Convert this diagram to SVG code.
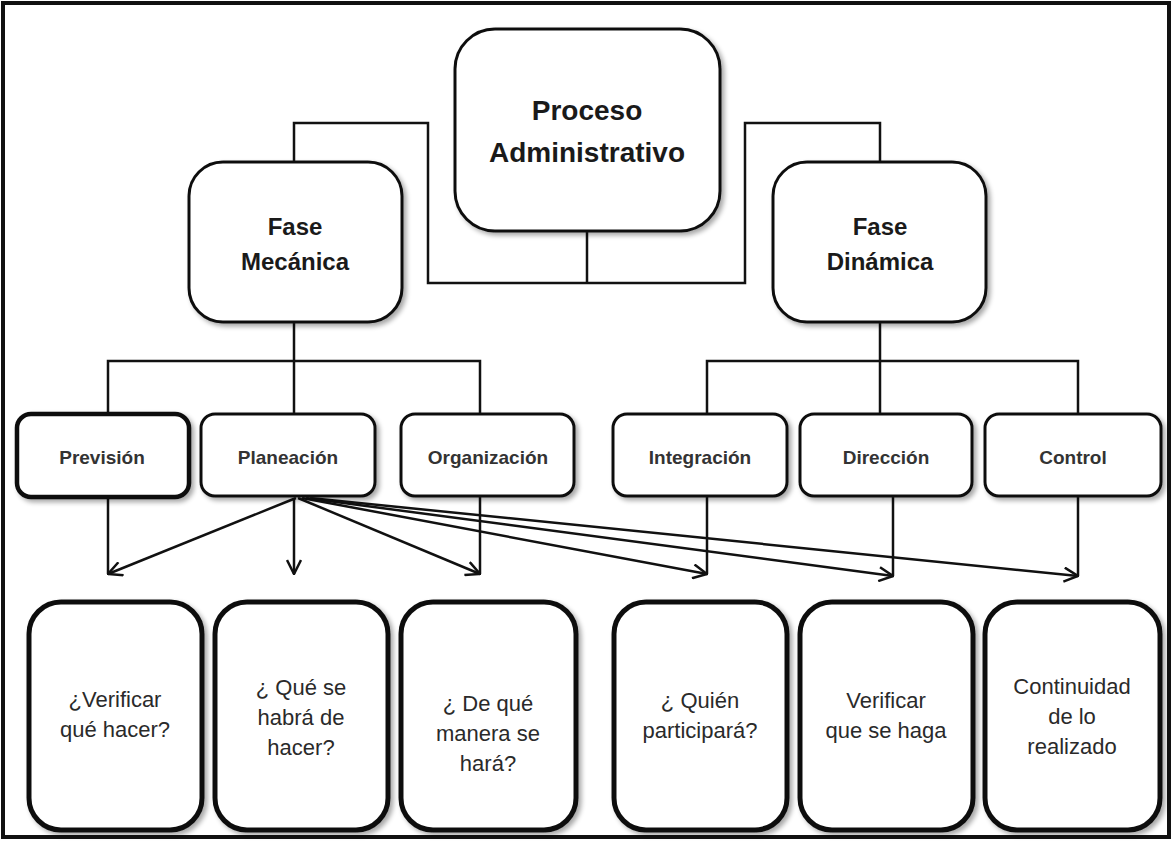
<svg xmlns="http://www.w3.org/2000/svg" width="1173" height="841" viewBox="0 0 1173 841">
  <style>
    .frame { fill: #fff; stroke: #111; stroke-width: 4; }
    .box { fill: #fff; stroke: #111; stroke-width: 3; filter: url(#shadow); }
    .box-heavy { fill: #fff; stroke: #111; stroke-width: 4.5; filter: url(#shadow); }
    .leaf { fill: #fff; stroke: #111; stroke-width: 5; filter: url(#shadow); }
    .wire { fill: none; stroke: #111; stroke-width: 2.5; }
    .title { font-family: "Liberation Sans", Arial, sans-serif; font-weight: bold; font-size: 28px; fill: #1a1a1a; text-anchor: middle; }
    .phase { font-family: "Liberation Sans", Arial, sans-serif; font-weight: bold; font-size: 24px; fill: #1a1a1a; text-anchor: middle; }
    .func { font-family: "Liberation Sans", Arial, sans-serif; font-weight: bold; font-size: 19px; fill: #333; text-anchor: middle; }
    .note { font-family: "Liberation Sans", Arial, sans-serif; font-size: 22px; fill: #2a2a2a; text-anchor: middle; }
  </style>
  <defs>
    <filter id="shadow" x="-10%" y="-10%" width="125%" height="125%">
      <feGaussianBlur in="SourceAlpha" stdDeviation="2.5"/>
      <feOffset dx="3" dy="3" result="b"/>
      <feComponentTransfer><feFuncA type="linear" slope="0.35"/></feComponentTransfer>
      <feMerge><feMergeNode/><feMergeNode in="SourceGraphic"/></feMerge>
    </filter>
    <marker id="arrow" viewBox="0 0 16 16" refX="15" refY="8" markerWidth="16" markerHeight="16" markerUnits="userSpaceOnUse" orient="auto">
      <path d="M1,1 L15,8 L1,15" fill="none" stroke="#111" stroke-width="2.5"/>
    </marker>
  </defs>

  <rect class="frame" x="3" y="3" width="1166" height="834"/>

  <!-- connectors -->
  <g id="connectors">
    <!-- top tree -->
    <path class="wire" d="M294,162 V123 H428 V283 H745 V123 H880 V162"/>
    <path class="wire" d="M587,231 V283"/>
    <!-- mechanical phase branches -->
    <path class="wire" d="M294,322 V415"/>
    <path class="wire" d="M108,415 V361 H480 V415"/>
    <!-- dynamic phase branches -->
    <path class="wire" d="M880,322 V415"/>
    <path class="wire" d="M707,415 V361 H1078 V415"/>
    <!-- drops from function boxes -->
    <path class="wire" d="M108,497 V574"/>
    <path class="wire" d="M480,497 V574"/>
    <path class="wire" d="M707,497 V574"/>
    <path class="wire" d="M893,497 V576"/>
    <path class="wire" d="M1078,497 V576"/>
    <!-- fan of arrows from Planeación -->
    <path class="wire" d="M296,498 L108,574" marker-end="url(#arrow)"/>
    <path class="wire" d="M294,498 V574" marker-end="url(#arrow)"/>
    <path class="wire" d="M298,498 L480,574" marker-end="url(#arrow)"/>
    <path class="wire" d="M302,498 L707,574" marker-end="url(#arrow)"/>
    <path class="wire" d="M306,498 L893,576" marker-end="url(#arrow)"/>
    <path class="wire" d="M310,498 L1078,576" marker-end="url(#arrow)"/>
  </g>

  <g id="proceso">
    <rect class="box" x="455" y="29" width="265" height="202" rx="40"/>
    <text class="title" x="587" y="120">Proceso</text>
    <text class="title" x="587" y="162">Administrativo</text>
  </g>

  <g id="fase-mecanica">
    <rect class="box" x="189" y="162" width="213" height="160" rx="34"/>
    <text class="phase" x="295" y="235">Fase</text>
    <text class="phase" x="295" y="270">Mecánica</text>
  </g>

  <g id="fase-dinamica">
    <rect class="box" x="773" y="162" width="213" height="160" rx="34"/>
    <text class="phase" x="880" y="235">Fase</text>
    <text class="phase" x="880" y="270">Dinámica</text>
  </g>

  <g id="prevision">
    <rect class="box-heavy" x="17" y="414" width="172" height="83" rx="14"/>
    <text class="func" x="102" y="464">Previsión</text>
  </g>
  <g id="planeacion">
    <rect class="box" x="201" y="414" width="174" height="82" rx="14"/>
    <text class="func" x="288" y="464">Planeación</text>
  </g>
  <g id="organizacion">
    <rect class="box" x="401" y="414" width="173" height="82" rx="14"/>
    <text class="func" x="488" y="464">Organización</text>
  </g>
  <g id="integracion">
    <rect class="box" x="613" y="414" width="174" height="82" rx="14"/>
    <text class="func" x="700" y="464">Integración</text>
  </g>
  <g id="direccion">
    <rect class="box" x="800" y="414" width="172" height="82" rx="14"/>
    <text class="func" x="886" y="464">Dirección</text>
  </g>
  <g id="control">
    <rect class="box" x="985" y="414" width="176" height="82" rx="14"/>
    <text class="func" x="1073" y="464">Control</text>
  </g>

  <g id="q-prevision">
    <rect class="leaf" x="29" y="602" width="173" height="228" rx="32"/>
    <text class="note" x="115" y="707">¿Verificar</text>
    <text class="note" x="115" y="737">qué hacer?</text>
  </g>
  <g id="q-planeacion">
    <rect class="leaf" x="215" y="602" width="173" height="228" rx="32"/>
    <text class="note" x="301" y="695">¿ Qué se</text>
    <text class="note" x="301" y="725">habrá de</text>
    <text class="note" x="301" y="755">hacer?</text>
  </g>
  <g id="q-organizacion">
    <rect class="leaf" x="401" y="602" width="175" height="228" rx="32"/>
    <text class="note" x="488" y="711">¿ De qué</text>
    <text class="note" x="488" y="741">manera se</text>
    <text class="note" x="488" y="771">hará?</text>
  </g>
  <g id="q-integracion">
    <rect class="leaf" x="614" y="602" width="173" height="228" rx="32"/>
    <text class="note" x="700" y="708">¿ Quién</text>
    <text class="note" x="700" y="738">participará?</text>
  </g>
  <g id="q-direccion">
    <rect class="leaf" x="800" y="602" width="173" height="228" rx="32"/>
    <text class="note" x="886" y="708">Verificar</text>
    <text class="note" x="886" y="738">que se haga</text>
  </g>
  <g id="q-control">
    <rect class="leaf" x="985" y="602" width="175" height="228" rx="32"/>
    <text class="note" x="1072" y="694">Continuidad</text>
    <text class="note" x="1072" y="724">de lo</text>
    <text class="note" x="1072" y="754">realizado</text>
  </g>
</svg>
